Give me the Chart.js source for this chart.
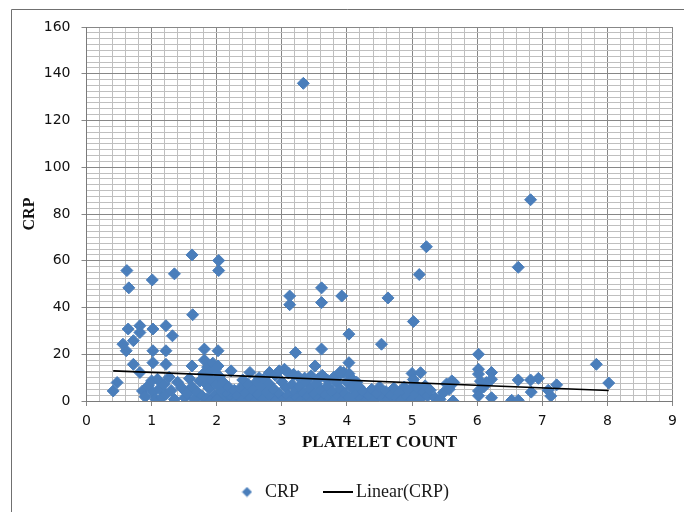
<!DOCTYPE html>
<html><head><meta charset="utf-8">
<script src="https://cdn.jsdelivr.net/npm/chart.js@4/dist/chart.umd.min.js"></script>
<style>html,body{margin:0;padding:0;background:#fff}canvas{display:block}</style>
</head><body>
<canvas id="c" width="684" height="512"></canvas>
<script>
// Platelet count (x) and CRP (y)
const plateletCount = [
  0.41,0.47,0.56,0.61,0.62,0.65,0.64,0.72,0.72,0.82,0.82,0.82,1.02,1.01,1.22,1.32,1.35,1.02,1.22,1.02,1.22,1.62,1.63,1.62,1.81,2.02,2.03,2.03,3.33,3.12,3.12,3.61,3.61,3.92,3.21,3.61,4.03,4.03,3.51,4.53,4.63,5.02,5.11,5.22,6.63,6.82,
  0.86,0.90,0.95,1.00,1.02,1.06,1.09,1.12,1.16,1.19,1.22,1.27,1.30,1.35,1.40,1.46,1.51,1.55,1.58,1.62,1.66,1.70,1.74,1.79,1.84,1.78,
  1.81,1.86,1.90,1.94,1.98,2.02,1.83,1.88,1.92,1.96,2.00,2.04,2.06,2.08,2.10,2.13,2.16,2.18,2.22,2.24,2.27,2.30,1.85,1.91,2.01,
  2.51,2.60,2.65,2.81,2.90,2.96,3.04,3.10,3.18,3.25,3.35,3.45,3.56,3.62,3.70,3.80,3.90,3.95,4.03,4.08,4.15,2.40,2.72,3.90,
  2.32,2.36,2.40,2.44,2.48,2.52,2.56,2.60,2.64,2.68,2.72,2.76,2.80,2.84,2.88,2.92,2.96,3.00,3.03,3.06,3.10,3.13,3.16,3.20,3.23,3.27,3.30,3.33,3.37,3.40,3.43,3.47,3.50,3.53,3.57,3.60,3.63,3.67,3.70,3.74,3.77,3.80,3.84,3.87,3.90,3.94,3.97,4.00,4.03,4.07,4.10,4.14,4.18,4.22,4.26,4.30,
  4.34,4.38,4.41,4.46,4.50,4.55,4.60,4.63,4.68,4.72,4.76,4.80,4.84,4.88,4.92,4.96,5.00,5.03,5.06,5.10,5.13,5.17,5.20,5.24,5.28,5.35,5.43,5.48,5.53,5.57,5.61,5.64,5.63,5.00,5.13,5.02,
  6.02,6.02,6.02,6.22,6.22,6.14,6.02,6.02,6.22,6.53,6.63,6.63,6.82,6.94,6.83,7.13,7.09,7.22,7.83,8.02,6.10,6.05
];
const crp = [
  4.3,7.9,24.3,21.5,55.8,48.4,30.8,25.8,15.7,32.2,29.3,12.2,30.8,51.8,32.2,27.9,54.4,21.5,21.5,16.4,15.7,62.5,36.9,15.0,22.2,21.5,60.1,55.8,135.9,44.9,41.2,48.4,42.1,44.9,20.7,22.2,28.6,16.4,15.0,24.3,44.1,34.0,54.1,66.0,57.2,86.1,
  4.3,1.8,6.5,8.6,3.6,0.8,9.3,5.2,1.5,7.2,2.9,10.2,4.5,0.7,8.0,5.7,1.4,3.2,9.6,6.1,0.7,3.8,8.5,11.5,7.2,2.0,
  17.5,14.5,12.8,16.2,13.6,15.0,9.8,5.5,9.0,2.5,6.8,10.5,1.2,4.2,8.0,0.5,3.0,6.0,12.9,1.8,4.6,0.3,1.0,0.0,0.6,
  12.2,7.9,10.0,12.2,11.0,12.9,13.6,12.0,11.4,10.5,9.8,10.8,9.5,11.0,9.0,10.2,11.5,12.2,11.7,9.3,8.0,9.0,9.3,12.5,
  2.0,5.5,0.5,3.5,7.2,1.2,4.6,0.2,2.8,6.0,0.8,3.9,7.5,1.6,5.0,0.3,3.0,8.2,1.0,5.8,2.4,0.0,7.0,4.0,1.5,6.2,0.4,3.4,8.5,1.9,5.3,0.2,3.0,7.4,1.2,4.6,0.0,2.6,6.4,1.0,4.2,0.3,7.8,2.2,5.0,0.6,3.2,8.0,1.4,5.6,0.2,3.0,6.2,1.0,3.8,0.5,
  2.5,5.0,0.0,3.2,6.0,1.0,4.0,0.5,2.4,5.5,1.2,3.5,0.3,6.0,2.0,4.5,0.5,7.5,3.0,5.2,1.0,3.8,6.5,2.2,4.6,1.4,0.7,3.5,7.3,5.0,8.6,7.9,0.0,11.8,12.1,9.2,
  20.0,13.6,11.5,12.2,9.3,7.9,4.3,2.2,1.4,0.3,0.3,9.0,9.0,9.7,3.8,2.1,4.6,6.9,15.7,7.7,6.0,8.5
];
// Linear trendline end points
const trendX = [0.41, 8.02];
const trendY = [12.9, 4.5];

const seriesName = 'CRP';
const trendName = 'Linear(CRP)';
const xTitle = 'PLATELET COUNT';
const yTitle = 'CRP';

const BLUE = '#4A7EBB';
const MAJOR = '#878787';
const MINOR = '#bfbfbf';

const points = plateletCount.map((x, i) => ({x: x, y: crp[i]}));
const trend = trendX.map((x, i) => ({x: x, y: trendY[i]}));

function diamondIcon() {
  const c = document.createElement('canvas'); c.width = 11; c.height = 11;
  const g = c.getContext('2d'); g.fillStyle = BLUE;
  g.beginPath(); g.moveTo(5.5, 0.5); g.lineTo(10.5, 5.5); g.lineTo(5.5, 10.5); g.lineTo(0.5, 5.5); g.closePath(); g.fill();
  return c;
}
function lineIcon() {
  const c = document.createElement('canvas'); c.width = 30; c.height = 2;
  const g = c.getContext('2d'); g.fillStyle = '#000'; g.fillRect(0, 0, 30, 2);
  return c;
}
const dIcon = diamondIcon(), lIcon = lineIcon();

const framePlugin = {
  id: 'frame',
  afterDraw(chart) {
    const ctx = chart.ctx;
    ctx.save();
    ctx.strokeStyle = '#707070'; ctx.lineWidth = 1;
    ctx.beginPath(); ctx.moveTo(11.5, 512); ctx.lineTo(11.5, 9.5); ctx.lineTo(684, 9.5); ctx.stroke();
    ctx.restore();
  }
};

const isMajorX = v => Math.abs(v - Math.round(v)) < 1e-6;
const isMajorY = v => Math.abs(v / 20 - Math.round(v / 20)) < 1e-6;

new Chart(document.getElementById('c'), {
  type: 'scatter',
  data: {
    datasets: [
      { label: seriesName, data: points, order: 1, pointStyle: 'rectRot', pointRadius: 6,
        backgroundColor: BLUE, borderColor: BLUE, borderWidth: 1, showLine: false },
      { type: 'line', label: trendName, data: trend, order: 0, borderColor: '#000', borderWidth: 1.6,
        pointRadius: 0, fill: false, showLine: true }
    ]
  },
  options: {
    responsive: false, animation: false,
    layout: { padding: { left: 12, right: 9, top: 27, bottom: 1 } },
    plugins: {
      tooltip: { enabled: false },
      legend: {
        position: 'bottom',
        labels: {
          usePointStyle: true, padding: 30, color: '#1a1a1a',
          font: { family: 'Liberation Serif', size: 18 },
          generateLabels: () => [
            { text: seriesName, pointStyle: dIcon, fillStyle: BLUE, strokeStyle: BLUE, lineWidth: 0, hidden: false, datasetIndex: 0, fontColor: '#1a1a1a' },
            { text: trendName, pointStyle: lIcon, fillStyle: '#000', strokeStyle: '#000', lineWidth: 0, hidden: false, datasetIndex: 1, fontColor: '#1a1a1a' }
          ]
        }
      }
    },
    scales: {
      x: {
        type: 'linear', position: 'bottom', min: 0, max: 9,
        afterFit(s) { s.height = 52; },
        ticks: { stepSize: 0.2, autoSkip: false, maxRotation: 0, minRotation: 0, padding: 7,
          color: '#111', font: { family: 'DejaVu Sans', size: 14 },
          callback: v => isMajorX(v) ? String(Math.round(v)) : '' },
        grid: { color: c => isMajorX(c.tick.value) ? MAJOR : MINOR, lineWidth: 1, drawTicks: true, tickLength: 5,
          tickColor: c => isMajorX(c.tick.value) ? MAJOR : 'rgba(0,0,0,0)' },
        border: { color: '#7a7a7a', width: 1 },
        title: { display: true, text: xTitle, color: '#111', padding: { top: 0, bottom: 0 },
          font: { family: 'Liberation Serif', size: 17, weight: 'bold' } }
      },
      y: {
        type: 'linear', min: 0, max: 160,
        afterFit(s) { s.width = 74.5; },
        ticks: { stepSize: 2.5, autoSkip: false, padding: 11, color: '#111',
          font: { family: 'DejaVu Sans', size: 14 },
          callback: v => isMajorY(v) ? String(Math.round(v)) : '' },
        grid: { color: c => isMajorY(c.tick.value) ? MAJOR : MINOR, lineWidth: 1, drawTicks: true, tickLength: 5,
          tickColor: c => isMajorY(c.tick.value) ? MAJOR : 'rgba(0,0,0,0)' },
        border: { color: '#7a7a7a', width: 1 },
        title: { display: true, text: yTitle, color: '#111', padding: { top: 8, bottom: 0 },
          font: { family: 'Liberation Serif', size: 16, weight: 'bold' } }
      }
    }
  },
  plugins: [framePlugin]
});
</script>
</body></html>
